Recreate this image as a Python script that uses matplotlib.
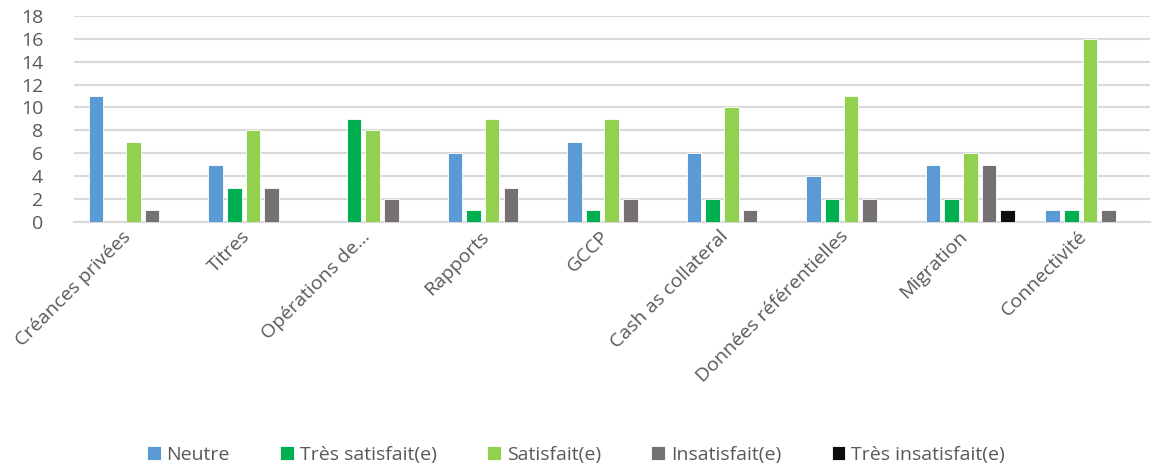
import numpy as np
import matplotlib.pyplot as plt
import matplotlib.transforms as mtrans

plt.rcParams['font.family'] = ['Open Sans', 'DejaVu Sans']

# catégories et séries
categories = ['Créances privées', 'Titres', 'Opérations de...', 'Rapports', 'GCCP',
              'Cash as collateral', 'Données référentielles', 'Migration', 'Connectivité']
neutre = [11, 5, 0, 6, 7, 6, 4, 5, 1]
tres_satisfait = [0, 3, 9, 1, 1, 2, 2, 2, 1]
satisfait = [7, 8, 8, 9, 9, 10, 11, 6, 16]
insatisfait = [1, 3, 2, 3, 2, 1, 2, 5, 1]
tres_insatisfait = [0, 0, 0, 0, 0, 0, 0, 1, 0]

series = [
    ('Neutre', neutre, '#5B9BD5'),
    ('Très satisfait(e)', tres_satisfait, '#00B050'),
    ('Satisfait(e)', satisfait, '#92D050'),
    ('Insatisfait(e)', insatisfait, '#767171'),
    ('Très insatisfait(e)', tres_insatisfait, '#0D0D0D'),
]

fig = plt.figure(figsize=(11.52, 4.67), dpi=100)
ax = fig.add_axes([0.064, 0.525, 0.934, 0.441])

x = np.arange(len(categories))
slot = 0.156
width = 0.122
for i, (name, vals, col) in enumerate(series):
    ax.bar(x + (i - 2) * slot, vals, width, color=col, label=name,
           edgecolor='white', linewidth=0.6, zorder=3)

ax.set_xlim(-0.5, len(categories) - 0.5)
ax.set_ylim(0, 18)
ax.set_yticks(range(0, 19, 2))
ax.yaxis.grid(True, color='#D9D9D9', linewidth=1.5, zorder=0)
for s in ['top', 'right', 'left']:
    ax.spines[s].set_visible(False)
ax.spines['bottom'].set_color('#D9D9D9')
ax.spines['bottom'].set_linewidth(1.5)

ax.set_xticks(x)
ax.set_xticklabels(categories, rotation=45, ha='right', rotation_mode='anchor')
ax.tick_params(axis='both', length=0, labelsize=14, colors='#595959')
ax.tick_params(axis='y', pad=22)
ax.tick_params(axis='x', pad=4)
shift = mtrans.ScaledTranslation(-12 / 100, 0, fig.dpi_scale_trans)
for lab in ax.get_xticklabels():
    lab.set_transform(lab.get_transform() + shift)

fig.legend(loc='lower center', bbox_to_anchor=(0.5, -0.03), ncol=5, frameon=False,
           fontsize=14, handlelength=0.7, handleheight=0.7, handletextpad=0.3,
           columnspacing=2.6, labelcolor='#595959')

fig.savefig('out.png', dpi=100)
